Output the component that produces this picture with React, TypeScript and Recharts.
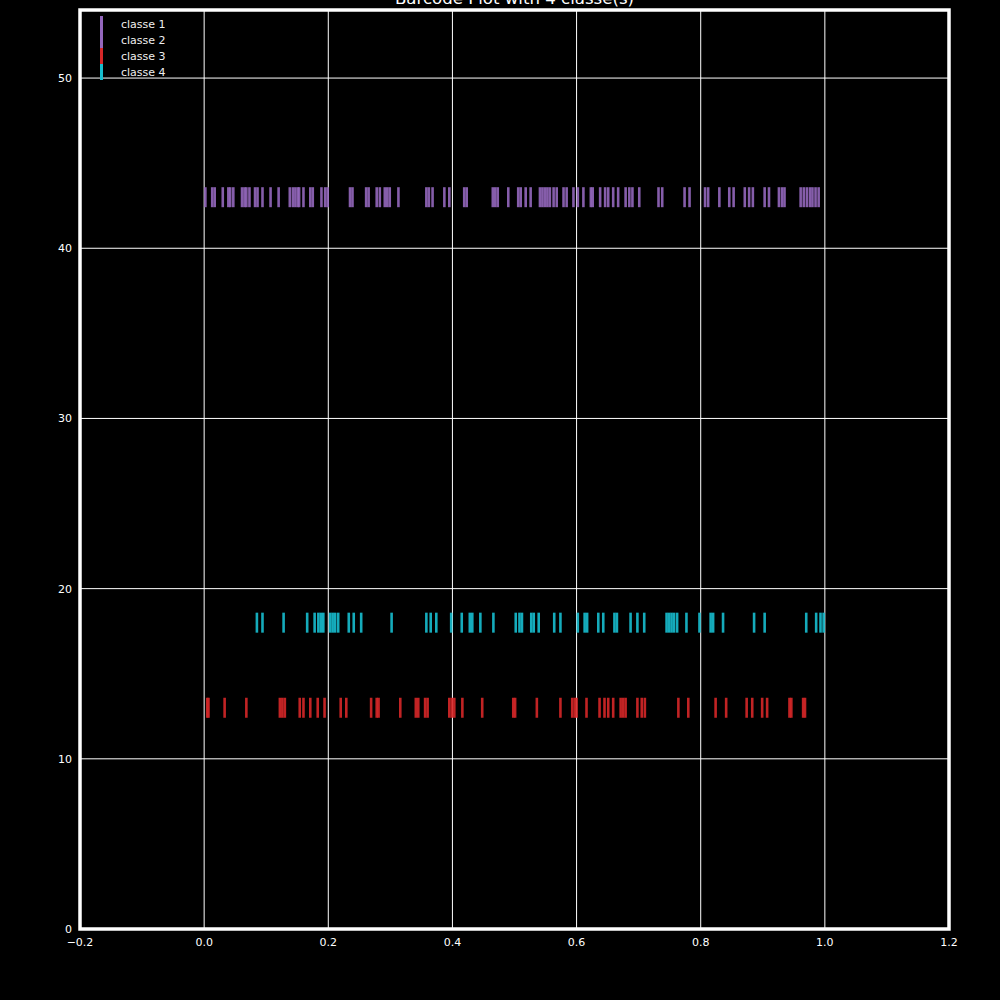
import { ScatterChart, Scatter, XAxis, YAxis, CartesianGrid, ReferenceArea, Legend } from 'recharts'

// x positions of each barcode tick
const CLASS1_X = [
    0.002, 0.013, 0.017, 0.030, 0.039, 0.042, 0.047, 0.061, 0.065, 0.068, 0.073, 0.082, 0.086, 0.094, 0.107, 0.120,
    0.138, 0.143, 0.147, 0.151, 0.153, 0.160, 0.171, 0.175, 0.189, 0.195, 0.199, 0.235, 0.239, 0.261, 0.265, 0.278,
    0.283, 0.291, 0.295, 0.299, 0.313, 0.358, 0.362, 0.368, 0.387, 0.395, 0.419, 0.423, 0.465, 0.469, 0.473, 0.490,
    0.506, 0.510, 0.518, 0.526, 0.541, 0.545, 0.549, 0.553, 0.557, 0.563, 0.568, 0.579, 0.584, 0.595, 0.602, 0.611,
    0.623, 0.626, 0.638, 0.646, 0.651, 0.659, 0.667, 0.679, 0.685, 0.690, 0.701, 0.732, 0.738, 0.774, 0.782, 0.807,
    0.812, 0.830, 0.846, 0.853, 0.871, 0.878, 0.884, 0.903, 0.910, 0.926, 0.931, 0.935, 0.961, 0.966, 0.971, 0.976,
    0.980, 0.985, 0.990,
]
const CLASS2_X: number[] = []
const CLASS3_X = [
    0.005, 0.007, 0.033, 0.068, 0.122, 0.126, 0.130, 0.154, 0.160, 0.171, 0.183, 0.194, 0.220, 0.229, 0.269, 0.278,
    0.281, 0.316, 0.341, 0.345, 0.356, 0.360, 0.395, 0.399, 0.403, 0.416, 0.448, 0.498, 0.501, 0.536, 0.574, 0.593,
    0.597, 0.600, 0.616, 0.637, 0.645, 0.651, 0.659, 0.671, 0.675, 0.679, 0.698, 0.705, 0.710, 0.764, 0.780, 0.824,
    0.841, 0.874, 0.883, 0.899, 0.907, 0.943, 0.946, 0.965, 0.968,
]
const CLASS4_X = [
    0.085, 0.094, 0.128, 0.166, 0.178, 0.184, 0.188, 0.192, 0.203, 0.207, 0.211, 0.216, 0.233, 0.241, 0.253, 0.302,
    0.358, 0.365, 0.374, 0.398, 0.415, 0.428, 0.432, 0.445, 0.466, 0.502, 0.508, 0.512, 0.527, 0.531, 0.539, 0.564,
    0.574, 0.602, 0.613, 0.617, 0.635, 0.643, 0.661, 0.665, 0.687, 0.698, 0.709, 0.745, 0.749, 0.753, 0.757, 0.762,
    0.777, 0.798, 0.816, 0.820, 0.836, 0.886, 0.903, 0.970, 0.986, 0.993, 0.998,
]

const CLASS_NAMES = ['classe 1', 'classe 2', 'classe 3', 'classe 4']
const CLASS_ROWS = [43, 43, 13, 18]
const CLASS_COLORS = ['#9467bd', '#9467bd', '#d62728', '#17becf']
const CLASS_VALUES = [CLASS1_X, CLASS2_X, CLASS3_X, CLASS4_X]

const X_TICKS = [-0.2, 0, 0.2, 0.4, 0.6, 0.8, 1.0, 1.2]
const Y_TICKS = [0, 10, 20, 30, 40, 50]

const FONT = '"DejaVu Sans", sans-serif'

function BarTick(props: any) {
    const { cx, cy, fill } = props
    if (cx == null || cy == null) return null
    return <line x1={cx} x2={cx} y1={cy - 10} y2={cy + 10} stroke={fill} strokeWidth={2.6} strokeOpacity={0.9} />
}

function renderLegend(props: any) {
    const { payload } = props
    return (
        <div style={{ fontFamily: FONT, fontSize: 11, color: '#eeeeee' }}>
            {(payload || []).map((p: any, i: number) => (
                <div key={i} style={{ display: 'flex', alignItems: 'center', height: 16 }}>
                    <div style={{ width: 3, height: 16, background: p.color, marginRight: 18 }} />
                    <span>{p.value}</span>
                </div>
            ))}
        </div>
    )
}

const fmtX = (v: number) => (v < 0 ? '\u2212' + Math.abs(v).toFixed(1) : v.toFixed(1))

export default function App() {
    return (
        <div style={{ position: 'absolute', left: 0, top: 0, width: 1000, height: 1000, background: '#000', overflow: 'hidden' }}>
            <ScatterChart width={1000} height={1000} margin={{ top: 10, right: 51, bottom: 0, left: 0 }}>
                <CartesianGrid stroke="#ffffff" strokeWidth={1} />
                <XAxis
                    type="number"
                    dataKey="x"
                    domain={[-0.2, 1.2]}
                    ticks={X_TICKS}
                    allowDataOverflow
                    height={71}
                    tickFormatter={fmtX}
                    tick={{ fontSize: 11, fill: '#ffffff', fontFamily: FONT }}
                    tickLine={false}
                    axisLine={false}
                    tickSize={0}
                    tickMargin={9}
                />
                <YAxis
                    type="number"
                    dataKey="y"
                    domain={[0, 54]}
                    ticks={Y_TICKS}
                    allowDataOverflow
                    width={80}
                    tick={{ fontSize: 11, fill: '#ffffff', fontFamily: FONT }}
                    tickLine={false}
                    axisLine={false}
                    tickSize={0}
                    tickMargin={8}
                />
                {CLASS_NAMES.map((name, i) => (
                    <Scatter
                        key={name}
                        name={name}
                        data={CLASS_VALUES[i].map(x => ({ x, y: CLASS_ROWS[i] }))}
                        fill={CLASS_COLORS[i]}
                        shape={BarTick}
                        isAnimationActive={false}
                    />
                ))}
                <ReferenceArea x1={-0.2} x2={1.2} y1={0} y2={54} stroke="#ffffff" strokeWidth={3.5} fill="none" fillOpacity={0} />
                <Legend
                    layout="vertical"
                    align="center"
                    verticalAlign="middle"
                    content={renderLegend}
                    wrapperStyle={{ position: 'absolute', left: 100, top: 16, width: 'auto', height: 'auto' }}
                />
            </ScatterChart>
            <svg width={1000} height={20} style={{ position: 'absolute', left: 0, top: 0 }}>
                <text x={514.5} y={4} textAnchor="middle" fill="#ffffff" fontSize={16.6} fontFamily={FONT}>
                    Barcode Plot with 4 classe(s)
                </text>
            </svg>
        </div>
    )
}
